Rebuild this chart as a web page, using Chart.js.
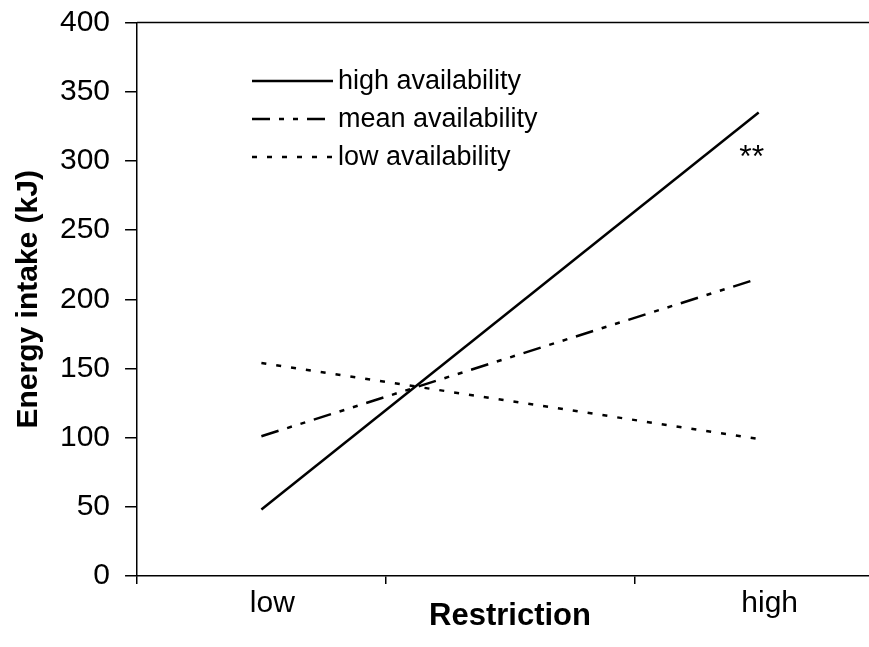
<!DOCTYPE html>
<html lang="en">
<head>
<meta charset="UTF-8">
<title>Energy intake by restriction</title>
<style>
  html, body { margin: 0; padding: 0; background: #fff; overflow: hidden; }
  /* plot runs past the right edge of the window, like the original */
  #wrap { position: relative; width: 885px; height: 647px; }
</style>
</head>
<body>
<div id="wrap"><canvas id="chart"></canvas></div>
<script src="https://cdn.jsdelivr.net/npm/chart.js"></script>
<script>
// restriction levels; the blank middle slot puts the tick marks between categories
const restriction = ['low', '', 'high'];

// energy intake (kJ) per food availability
const highAvailability = [48, null, 335];
const meanAvailability = [101, null, 215];
const lowAvailability = [154, null, 99];

const seriesNames = ['high availability', 'mean availability', 'low availability'];

const yMin = 0;
const yMax = 400;
const yStep = 50;

// significance mark above the high-restriction end
const sigText = '**';
const sigAt = { index: 2, value: 302 };

const FONT = "'Liberation Sans', Arial, sans-serif";

// top frame line, legend inside the plot and the ** mark
const extras = {
    id: 'extras',
    afterDraw(chart) {
        const ctx = chart.ctx;
        const area = chart.chartArea;
        const x = chart.scales.x;
        const y = chart.scales.y;
        ctx.save();

        ctx.strokeStyle = '#000';
        ctx.lineWidth = 1.5;
        ctx.beginPath();
        ctx.moveTo(area.left, area.top);
        ctx.lineTo(area.right, area.top);
        ctx.stroke();

        // legend
        const lx = 252, ly = 81, gap = 38, len = 81;
        ctx.font = '27px ' + FONT;
        ctx.fillStyle = '#000';
        ctx.textBaseline = 'alphabetic';
        ctx.textAlign = 'left';
        chart.data.datasets.forEach((ds, i) => {
            const yy = ly + i * gap;
            ctx.setLineDash(ds.borderDash || []);
            ctx.lineWidth = ds.borderWidth;
            ctx.strokeStyle = ds.borderColor;
            ctx.beginPath();
            ctx.moveTo(lx, yy);
            ctx.lineTo(lx + len, yy);
            ctx.stroke();
            ctx.fillText(ds.label, lx + len + 5, yy + 8);
        });
        ctx.setLineDash([]);

        // **
        ctx.font = '32px ' + FONT;
        ctx.textAlign = 'center';
        ctx.textBaseline = 'middle';
        ctx.fillText(sigText, x.getPixelForValue(sigAt.index) - 7, y.getPixelForValue(sigAt.value));
        ctx.restore();
    }
};

const lineStyle = {
    borderColor: '#000',
    borderWidth: 2.5,
    pointRadius: 0,
    spanGaps: true,
    tension: 0,
    fill: false
};

new Chart(document.getElementById('chart'), {
    type: 'line',
    data: {
        labels: restriction,
        datasets: [
            Object.assign({ label: seriesNames[0], data: highAvailability, borderDash: [] }, lineStyle),
            Object.assign({ label: seriesNames[1], data: meanAvailability, borderDash: [18, 9, 5, 9, 5, 9] }, lineStyle),
            Object.assign({ label: seriesNames[2], data: lowAvailability, borderDash: [5, 10] }, lineStyle)
        ]
    },
    options: {
        responsive: true,
        maintainAspectRatio: false,
        animation: false,
        layout: { padding: { top: 22, right: 2, bottom: 0, left: 0 } },
        plugins: {
            legend: { display: false },
            tooltip: { enabled: false }
        },
        scales: {
            x: {
                type: 'category',
                offset: true,
                grid: { offset: true, drawOnChartArea: false, tickLength: 8, color: '#000', lineWidth: 1.5 },
                border: { color: '#000', width: 1.5 },
                ticks: {
                    color: '#000',
                    font: { family: FONT, size: 30, lineHeight: 1 },
                    padding: 5,
                    labelOffset: 11,
                    maxRotation: 0,
                    autoSkip: false
                },
                title: {
                    display: true,
                    text: 'Restriction',
                    color: '#000',
                    font: { family: FONT, size: 31, weight: 'bold', lineHeight: 1 },
                    padding: { top: -23, bottom: 15 }
                }
            },
            y: {
                min: yMin,
                max: yMax,
                grid: { drawOnChartArea: false, tickLength: 12, color: '#000', lineWidth: 1.5 },
                border: { color: '#000', width: 1.5 },
                ticks: {
                    stepSize: yStep,
                    color: '#000',
                    padding: 15,
                    // small line height keeps the top/bottom label padding tight
                    font: { family: FONT, size: 30, lineHeight: 0.5 }
                },
                title: {
                    display: true,
                    text: 'Energy intake (kJ)',
                    color: '#000',
                    font: { family: FONT, size: 30, weight: 'bold', lineHeight: 1 },
                    padding: { top: 14, bottom: 1 }
                }
            }
        }
    },
    plugins: [extras]
});
</script>
</body>
</html>
